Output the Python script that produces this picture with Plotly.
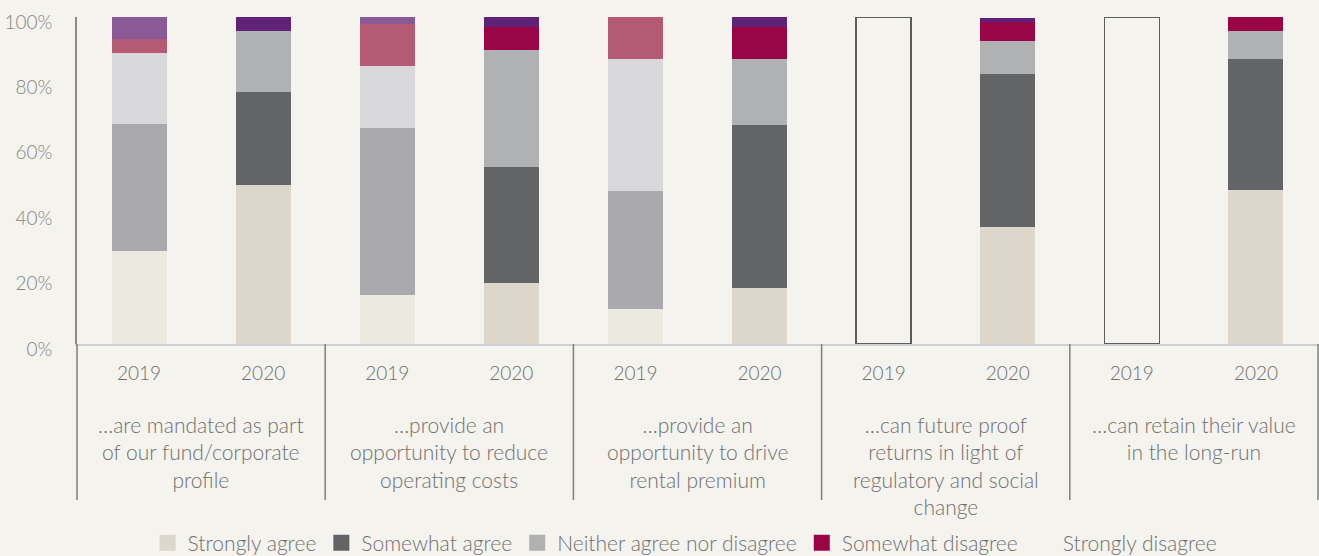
import plotly.graph_objects as go

# ---------------- data ----------------
statements = [
    "…are mandated as part<br>of our fund/corporate<br>profile",
    "…provide an<br>opportunity to reduce<br>operating costs",
    "…provide an<br>opportunity to drive<br>rental premium",
    "…can future proof<br>returns in light of<br>regulatory and social<br>change",
    "…can retain their value<br>in the long-run",
]
years = ["2019", "2020"]
series_names = ["Strongly agree", "Somewhat agree", "Neither agree nor disagree",
                "Somewhat disagree", "Strongly disagree"]

strongly_agree_2019 = [28.4, 15.0, 10.7, None, None]
somewhat_agree_2019 = [38.8, 51.1, 36.1, None, None]
neither_2019 = [21.7, 18.9, 40.4, None, None]
somewhat_disagree_2019 = [4.3, 12.9, 12.8, None, None]
strongly_disagree_2019 = [6.7, 2.1, 0.0, None, None]
no_response_2019 = [None, None, None, 100.0, 100.0]

strongly_agree_2020 = [48.6, 18.7, 17.1, 35.8, 47.1]
somewhat_agree_2020 = [28.5, 35.4, 49.9, 46.8, 40.1]
neither_2020 = [18.6, 35.8, 20.2, 10.1, 8.5]
somewhat_disagree_2020 = [0.0, 7.0, 9.7, 5.8, 4.3]
strongly_disagree_2020 = [4.3, 3.1, 3.1, 1.2, 0.0]

y_tick_values = [0, 20, 40, 60, 80, 100]
y_tick_labels = ["0%", "20%", "40%", "60%", "80%", "100%"]

# ---------------- styles ----------------
BG = "#F4F3EE"
colors_2020 = ["#DDD6CA", "#636468", "#B0B1B3", "#990546", "#5F2277"]
colors_2019 = ["#ECE9E1", "#AAAAAE", "#D8D8DA", "#B55A75", "#8A5A96"]
legend_colors = ["#DDD6CA", "#636468", "#B0B1B3", "#990546", BG]
FONT = "Lato"
TEXT = "#707070"

n = len(statements)
cats_2019 = [f"{i}|2019" for i in range(n)]
cats_2020 = [f"{i}|2020" for i in range(n)]
all_cats = [c for pair in zip(cats_2019, cats_2020) for c in pair]
tick_text = [y for _ in range(n) for y in years]

data_2019 = [strongly_agree_2019, somewhat_agree_2019, neither_2019,
             somewhat_disagree_2019, strongly_disagree_2019]
data_2020 = [strongly_agree_2020, somewhat_agree_2020, neither_2020,
             somewhat_disagree_2020, strongly_disagree_2020]

fig = go.Figure()
BW = 0.443
for name, vals, col in zip(series_names, data_2019, colors_2019):
    fig.add_trace(go.Bar(x=cats_2019, y=vals, name=name, marker_color=col,
                         marker_line_width=0, width=BW, showlegend=False,
                         hoverinfo="skip"))
fig.add_trace(go.Bar(x=cats_2019, y=no_response_2019, name="No data",
                     marker=dict(color="rgba(0,0,0,0)", line=dict(color="#5c5c5c", width=1.5)),
                     width=BW, showlegend=False, hoverinfo="skip"))
for name, vals, col in zip(series_names, data_2020, colors_2020):
    fig.add_trace(go.Bar(x=cats_2020, y=vals, name=name, marker_color=col,
                         marker_line_width=0, width=BW, showlegend=False,
                         hoverinfo="skip"))
# legend proxies
for name, col in zip(series_names, legend_colors):
    fig.add_trace(go.Scatter(x=[None], y=[None], mode="markers", name=name,
                             marker=dict(symbol="square", size=16, color=col),
                             showlegend=True))

L, R, T, B = 77, 1, 17, 212
H = 556 - T - B

def py(pix):
    return (H + T - pix) / H

annotations = []
for i, s in enumerate(statements):
    annotations.append(dict(
        x=(2 * i + 1) / (2 * n), xref="paper", y=py(409.5), yref="paper",
        text=s, showarrow=False, xanchor="center", yanchor="top", align="center",
        font=dict(family=FONT, size=21, color=TEXT, weight=300)))

shapes = []
for k in range(n + 1):
    shapes.append(dict(type="line", xref="paper", yref="paper",
                       x0=k / n, x1=k / n, y0=0, y1=py(500),
                       line=dict(color="#7f7f7f", width=1.5)))

fig.update_layout(
    width=1319, height=556,
    barmode="stack",
    paper_bgcolor=BG, plot_bgcolor=BG,
    margin=dict(l=L, r=R, t=T, b=B, autoexpand=False),
    font=dict(family=FONT, color=TEXT),
    xaxis=dict(type="category", categoryorder="array", categoryarray=all_cats,
               tickmode="array", tickvals=all_cats, ticktext=tick_text,
               showline=True, linecolor="#cfcfcf", linewidth=2,
               ticks="outside", ticklen=11, tickcolor="rgba(0,0,0,0)",
               tickfont=dict(family=FONT, size=19, color=TEXT, weight=300),
               showgrid=False, zeroline=False, range=[-0.5, 2 * n - 0.5]),
    yaxis=dict(range=[0, 100], tickvals=y_tick_values, ticktext=y_tick_labels,
               showline=True, linecolor="#8a8a8a", linewidth=1.5,
               ticks="outside", ticklen=19, tickcolor="rgba(0,0,0,0)",
               ticklabelshift=5,
               tickfont=dict(family=FONT, size=19, color="#858585", weight=300),
               showgrid=False, zeroline=False),
    legend=dict(orientation="h", x=0.49, xanchor="center", y=py(543), yanchor="middle",
                font=dict(family=FONT, size=21, color=TEXT, weight=300),
                itemsizing="trace", bgcolor="rgba(0,0,0,0)", traceorder="normal"),
    annotations=annotations,
    shapes=shapes,
    showlegend=True,
)

fig.write_html("out.html")
